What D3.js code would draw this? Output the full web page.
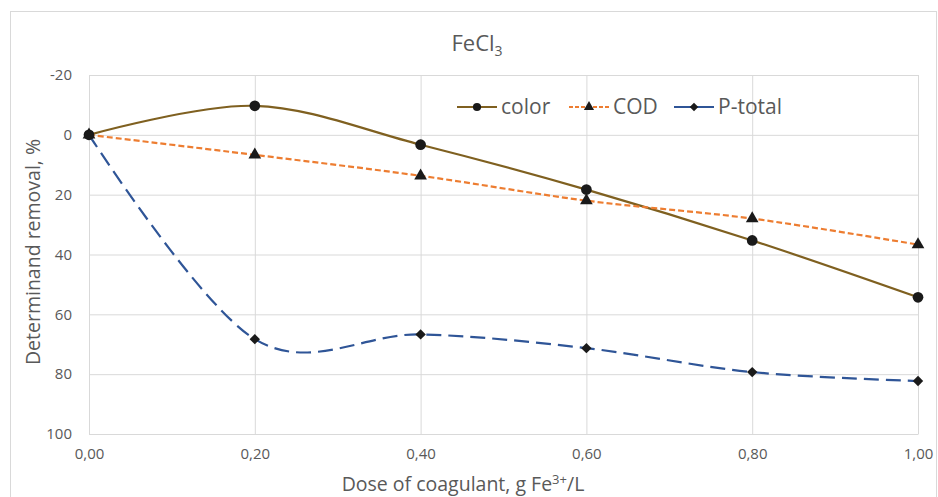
<!DOCTYPE html>
<html><head><meta charset="utf-8">
<script src="https://cdn.jsdelivr.net/npm/d3@7"></script>
<style>body{margin:0;background:#fff;} text{font-family:"Open Sans","Liberation Sans",sans-serif;fill:#595959;}</style>
</head><body><svg id="c" width="938" height="497"></svg>
<script>
const doses = [0, 0.2, 0.4, 0.6, 0.8, 1.0];
const xTicks = [0, 0.2, 0.4, 0.6, 0.8, 1.0];
const yTicks = [-20, 0, 20, 40, 60, 80, 100];
const colorVals = [0, -9.7, 3.3, 18.3, 35.3, 54.3];
const codVals = [0, 6.7, 13.7, 22, 28, 36.7];
const pVals = [0, 68.3, 66.7, 71.3, 79.3, 82.3];
const seriesNames = ["color", "COD", "P-total"];

const svg = d3.select("#c");
svg.append("rect").attr("x",10.5).attr("y",11.5).attr("width",926).attr("height",490).attr("fill","#fff").attr("stroke","#d9d9d9");
const L=89, R=918, T=75, B=434;
const x = d3.scaleLinear().domain([0,1]).range([L,R]);
const y = d3.scaleLinear().domain([-20,100]).range([T,B]);
const fmt = d => d.toFixed(2).replace(".", ",");

const g = svg.append("g");
g.selectAll(".hg").data(yTicks).join("line").attr("x1",L).attr("x2",R).attr("y1",d=>y(d)+0.5).attr("y2",d=>y(d)+0.5).attr("stroke","#d9d9d9");
g.selectAll(".vg").data(xTicks).join("line").attr("y1",T).attr("y2",B).attr("x1",d=>x(d)+0.5).attr("x2",d=>x(d)+0.5).attr("stroke","#d9d9d9");

const ya = d3.axisLeft(y).tickValues(yTicks).tickSize(0).tickPadding(17).tickFormat(d=>String(d));
const yg = svg.append("g").attr("transform",`translate(${L},0)`).call(ya);
yg.select(".domain").attr("stroke","#d9d9d9");
yg.selectAll("text").style("font-size","15px").attr("fill","#595959");
const xa = d3.axisBottom(x).tickValues(xTicks).tickSize(0).tickPadding(14).tickFormat(fmt);
const xg = svg.append("g").attr("transform",`translate(0,${B})`).call(xa);
xg.select(".domain").attr("stroke","#d9d9d9");
xg.selectAll("text").style("font-size","15px").attr("fill","#595959");

const t = svg.append("text").attr("x",477).attr("y",51).attr("text-anchor","middle").style("font-size","22px");
t.append("tspan").text("FeCl");
t.append("tspan").text("3").attr("dy",5).style("font-size","14px");
svg.append("text").attr("transform","translate(40,252) rotate(-90)").attr("text-anchor","middle").style("font-size","19.5px").text("Determinand removal, %");
const xt = svg.append("text").attr("x",463).attr("y",491).attr("text-anchor","middle").style("font-size","19.5px");
xt.append("tspan").text("Dose of coagulant, g Fe");
xt.append("tspan").text("3+").attr("dy",-7).style("font-size","13px");
xt.append("tspan").text("/L").attr("dy",7);

const curve = d3.curveCatmullRom.alpha(0);
const series = [
  {name:seriesNames[0], vals:colorVals, stroke:"#7f6020", dash:null, lg:null, type:d3.symbolCircle, size:90, lsize:52, rot:0},
  {name:seriesNames[1], vals:codVals, stroke:"#ed7d31", dash:"6,3", lg:"4,2", type:d3.symbolTriangle, size:70, lsize:45, rot:0},
  {name:seriesNames[2], vals:pVals, stroke:"#2f5597", dash:"15,7", lg:null, type:d3.symbolSquare, size:54, lsize:36, rot:45}
];
series.forEach(s=>{
  const line = d3.line().x((d,i)=>x(doses[i])).y(d=>y(d)).curve(curve);
  svg.append("path").attr("d",line(s.vals)).attr("fill","none").attr("stroke",s.stroke).attr("stroke-width",2.2).attr("stroke-dasharray",s.dash);
});
series.forEach(s=>{
  svg.selectAll(null).data(s.vals).join("path").attr("d",d3.symbol().type(s.type).size(s.size)())
    .attr("transform",(d,i)=>`translate(${x(doses[i])},${y(d)}) rotate(${s.rot})`).attr("fill","#1a1a1a");
});

const lx = [457, 569, 674];
series.forEach((s,i)=>{
  const lg = svg.append("g").attr("transform",`translate(${lx[i]},107)`);
  lg.append("line").attr("x1",0).attr("x2",40).attr("stroke",s.stroke).attr("stroke-width",2.2).attr("stroke-dasharray",s.lg);
  lg.append("path").attr("d",d3.symbol().type(s.type).size(s.lsize)()).attr("transform",`translate(20,0) rotate(${s.rot})`).attr("fill","#1a1a1a");
  lg.append("text").attr("x",44).attr("y",7).style("font-size","21px").text(s.name);
});
</script></body></html>
